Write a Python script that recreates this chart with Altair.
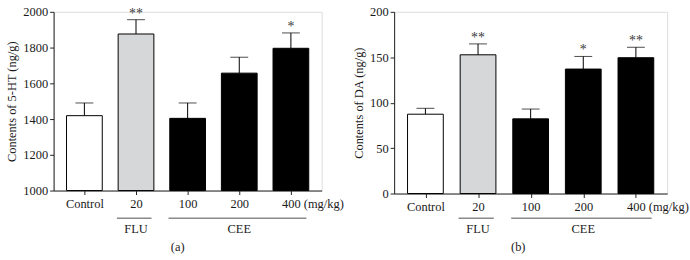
import altair as alt
import pandas as pd

# ---- data ----
categories = ["Control", "20", "100", "200", "400"]
groups = ["", "FLU", "CEE", "CEE", "CEE"]
fills = ["#ffffff", "#d6d7d9", "#000000", "#000000", "#000000"]
unit_label = "(mg/kg)"

ht_mean = [1419, 1876, 1404, 1657, 1796]
ht_sem = [71, 80, 86, 89, 86]
ht_sig = ["", "**", "", "", "*"]
ht_ticks = [1000, 1200, 1400, 1600, 1800, 2000]

da_mean = [87.3, 152.7, 82.2, 137.0, 149.5]
da_sem = [6.5, 12.0, 10.8, 13.9, 11.5]
da_sig = ["", "**", "", "*", "**"]
da_ticks = [0, 50, 100, 150, 200]

FONT = "Liberation Serif"
FS = 12.5
TXT = "#1a1a1a"
label_expr = " : ".join(f"datum.value == {i} ? '{c}'" for i, c in enumerate(categories)) + " : ''"


def panel(mean, sem, sig, ticks, ytitle, caption, w, h):
    df = pd.DataFrame({
        "cat": categories,
        "idx": list(range(len(categories))),
        "group": groups,
        "mean": mean,
        "top": [m + s for m, s in zip(mean, sem)],
        "sig": sig,
    })
    base = alt.Chart(df)
    xscale = alt.Scale(domain=[-0.5, len(categories) - 0.5], nice=False, zero=False)
    xaxis = alt.Axis(values=list(range(len(categories))), labelExpr=label_expr, grid=False,
                     tickSize=4, labelPadding=3, labelFontSize=FS, labelFont=FONT,
                     labelColor=TXT, domainColor="#222", tickColor="#222")
    yscale = alt.Scale(domain=[ticks[0], ticks[-1]], nice=False, zero=False)
    yaxis = alt.Axis(values=ticks, format="d", grid=False, tickSize=4, labelPadding=2,
                     labelFontSize=FS, labelFont=FONT, labelColor=TXT, domainColor="#222",
                     tickColor="#222", titleFont=FONT, titleFontSize=FS, titleFontWeight="normal",
                     titleColor=TXT, titlePadding=4)

    def X(f):
        return alt.X(f, scale=xscale, axis=xaxis, title=None)

    def Y(f):
        return alt.Y(f, scale=yscale, axis=yaxis, title=ytitle)

    err = base.mark_rule(color="#000", strokeWidth=1).encode(x=X("idx:Q"), y=Y("mean:Q"), y2="top:Q")
    cap = base.mark_tick(orient="horizontal", size=18, thickness=1, color="#000").encode(
        x=X("idx:Q"), y=Y("top:Q"))
    bars = base.mark_bar(size=36, stroke="#000", strokeWidth=1).encode(
        x=X("idx:Q"), y=Y("mean:Q"), y2=alt.datum(ticks[0]),
        color=alt.Color("cat:N", scale=alt.Scale(domain=categories, range=fills), legend=None))
    stars = base.mark_text(baseline="alphabetic", dy=-2, fontSize=14, fill="#3a3a3a", font=FONT).encode(
        x=X("idx:Q"), y=Y("top:Q"), text="sig:N")
    unit = base.transform_filter(f"datum.idx == {len(categories) - 1}").mark_text(
        align="left", baseline="middle", dx=13, fontSize=FS, font=FONT, fill=TXT).encode(
        x=X("idx:Q"), y=alt.value(h + 14), text=alt.value(unit_label))
    gbase = base.transform_filter("datum.group != ''").transform_aggregate(
        lo="min(idx)", hi="max(idx)", mid="mean(idx)", groupby=["group"]).transform_calculate(
        x1="datum.lo - 0.37", x2="datum.hi + 0.3")
    glines = gbase.mark_rule(color="#8a8a8a", strokeWidth=1.5).encode(
        x=X("x1:Q"), x2="x2:Q", y=alt.value(208))
    glabels = gbase.mark_text(baseline="middle", fontSize=FS, font=FONT, fill=TXT).encode(
        x=X("mid:Q"), y=alt.value(219), text="group:N")
    cap_df = pd.DataFrame({"label": [caption]})
    captxt = alt.Chart(cap_df).mark_text(baseline="middle", fontSize=FS, font=FONT, fill=TXT).encode(
        x=alt.value(125), y=alt.value(237), text="label:N")
    return alt.layer(err, cap, bars, stars, unit, glines, glabels, captxt).properties(width=w, height=h)


pa = panel(ht_mean, ht_sem, ht_sig, ht_ticks, "Contents of 5-HT (ng/g)", "(a)", 270, 180)
pb = panel(da_mean, da_sem, da_sig, da_ticks, "Contents of DA (ng/g)", "(b)", 275, 183)

chart = alt.hconcat(pa, pb, spacing=7).properties(
    padding={"left": 5, "top": 4, "right": 0, "bottom": 0}
).configure_view(strokeWidth=0).configure(font=FONT, background="white")

chart.save("out.html", embed_options={"renderer": "svg", "actions": False})
